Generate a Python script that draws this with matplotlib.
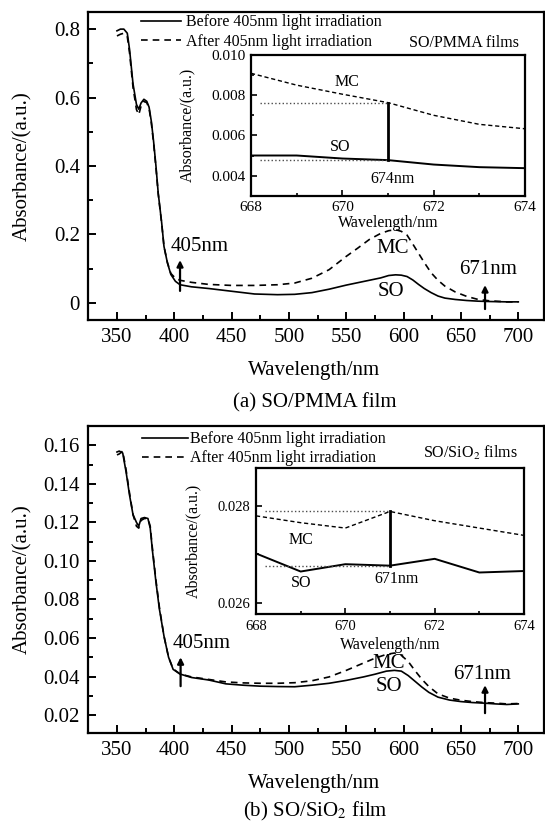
import matplotlib
matplotlib.use('Agg')
import matplotlib.pyplot as plt
from matplotlib.ticker import MultipleLocator, FuncFormatter

plt.rcParams['font.family'] = ['Liberation Serif', 'DejaVu Serif']
plt.rcParams['mathtext.fontset'] = 'stix'

# ---------------- data: (a) SO/PMMA film ----------------
wl_a = [350, 353, 356, 359, 361, 364, 367, 369, 371, 373.5, 376, 378, 380, 382, 384,
        386, 389, 391, 394, 397, 401, 405, 415, 430, 450, 470, 490, 505, 520, 535,
        550, 560, 570, 580, 587, 593, 598, 603, 608, 613, 618, 624, 630, 636, 645,
        655, 665, 675, 690, 700]
before_a = [0.795, 0.800, 0.800, 0.788, 0.74, 0.64, 0.58, 0.566, 0.584, 0.595, 0.589,
            0.572, 0.53, 0.47, 0.40, 0.32, 0.234, 0.165, 0.117, 0.083, 0.063, 0.053,
            0.047, 0.042, 0.034, 0.026, 0.024, 0.025, 0.030, 0.040, 0.052, 0.059,
            0.066, 0.073, 0.080, 0.082, 0.081, 0.077, 0.067, 0.054, 0.042, 0.030,
            0.020, 0.014, 0.010, 0.007, 0.005, 0.004, 0.003, 0.003]
after_a = [0.780, 0.785, 0.788, 0.778, 0.73, 0.63, 0.565, 0.55, 0.575, 0.589, 0.585,
           0.568, 0.525, 0.465, 0.395, 0.318, 0.232, 0.165, 0.118, 0.086, 0.072, 0.066,
           0.060, 0.054, 0.051, 0.051, 0.053, 0.058, 0.072, 0.097, 0.136, 0.160,
           0.185, 0.203, 0.211, 0.214, 0.209, 0.198, 0.172, 0.145, 0.118, 0.088,
           0.066, 0.049, 0.032, 0.019, 0.010, 0.006, 0.003, 0.003]

inset_wl = [668, 669, 670, 671, 672, 673, 674]
inset_mc_a = [0.00909, 0.0085, 0.00805, 0.00763, 0.0070, 0.00655, 0.00633]
inset_so_a = [0.0050, 0.0050, 0.00485, 0.00477, 0.00455, 0.00442, 0.00437]

# ---------------- data: (b) SO/SiO2 film ----------------
wl_b = [350, 352, 355, 358, 361, 364, 367, 369, 371, 374, 377, 379, 381, 384, 387,
        391, 395, 399, 405, 415, 430, 445, 460, 475, 490, 505, 520, 535, 550, 565,
        575, 585, 592, 598, 604, 610, 616, 622, 630, 640, 650, 660, 670, 680, 690, 700]
before_b = [0.1565, 0.157, 0.156, 0.146, 0.134, 0.124, 0.120, 0.118, 0.122, 0.1225,
            0.122, 0.117, 0.105, 0.089, 0.075, 0.061, 0.050, 0.0437, 0.0413, 0.0395,
            0.0382, 0.0362, 0.0355, 0.0350, 0.0348, 0.0347, 0.0355, 0.0365, 0.0380,
            0.0398, 0.0412, 0.0428, 0.0432, 0.0428, 0.0405, 0.0375, 0.0345, 0.0318,
            0.0293, 0.0278, 0.0270, 0.0265, 0.0262, 0.0258, 0.0255, 0.0258]
after_b = [0.155, 0.1555, 0.157, 0.147, 0.135, 0.124, 0.118, 0.117, 0.121, 0.122,
           0.122, 0.118, 0.106, 0.090, 0.076, 0.061, 0.050, 0.044, 0.0413, 0.0398,
           0.0385, 0.0372, 0.0367, 0.0365, 0.0365, 0.0368, 0.0378, 0.0398, 0.0432,
           0.0470, 0.0495, 0.0515, 0.0522, 0.0510, 0.0478, 0.0430, 0.0385, 0.0348,
           0.0310, 0.0288, 0.0277, 0.0270, 0.0265, 0.0262, 0.0258, 0.0260]

inset_mc_b = [0.02779, 0.02765, 0.02754, 0.02788, 0.02769, 0.02754, 0.02739]
inset_so_b = [0.02702, 0.02665, 0.02680, 0.02677, 0.02691, 0.02663, 0.02666]

legend_labels = ['Before 405nm light irradiation', 'After 405nm light irradiation']

W, H = 545, 827
fig = plt.figure(figsize=(W / 100, H / 100), dpi=100)


def rect(l, t, r, b):
    return [l / W, 1 - b / H, (r - l) / W, (b - t) / H]


def style_main(ax):
    for s in ax.spines.values():
        s.set_linewidth(1.6)
    ax.tick_params(which='both', direction='in', top=False, right=False,
                   labelsize=15, width=1.4, pad=6)
    ax.tick_params(which='major', length=6)
    ax.tick_params(which='minor', length=3.5)
    ax.set_xlim(325, 722)
    ax.xaxis.set_major_locator(MultipleLocator(50))
    ax.xaxis.set_minor_locator(MultipleLocator(25))


def style_inset(ax, fs):
    for s in ax.spines.values():
        s.set_linewidth(1.6)
    ax.tick_params(which='both', direction='in', top=False, right=False,
                   labelsize=fs, width=1.2, pad=4)
    ax.tick_params(which='major', length=4)
    ax.tick_params(which='minor', length=2.5)
    ax.set_xlim(668, 674)
    ax.xaxis.set_major_locator(MultipleLocator(2))
    ax.xaxis.set_minor_locator(MultipleLocator(1))


def arrow(ax, x, y0, y1):
    ax.annotate('', xy=(x, y1), xytext=(x, y0),
                arrowprops=dict(arrowstyle='-|>', color='k', lw=1.6,
                                mutation_scale=9, shrinkA=0, shrinkB=0))


# ================= panel (a) =================
ax1 = fig.add_axes(rect(88.3, 12, 543.5, 320))
style_main(ax1)
ax1.plot(wl_a, before_a, color='k', lw=1.2, label=legend_labels[0])
ax1.plot(wl_a, after_a, color='k', lw=1.2, ls=(0, (4, 3)), label=legend_labels[1])
ax1.set_ylim(-0.05, 0.85)
ax1.yaxis.set_major_locator(MultipleLocator(0.2))
ax1.yaxis.set_minor_locator(MultipleLocator(0.1))
ax1.yaxis.set_major_formatter(FuncFormatter(lambda v, p: '0' if abs(v) < 1e-9 else f'{v:.1f}'))
ax1.set_xlabel('Wavelength/nm', fontsize=15)
ax1.set_ylabel('Absorbance/(a.u.)', fontsize=15)
ax1.xaxis.set_label_coords(0.496, -0.133)
ax1.yaxis.set_label_coords(-0.1235, 0.5)
ax1.legend(loc='upper left', bbox_to_anchor=(0.1157, 0.992), frameon=False, fontsize=11.5,
           borderpad=0, borderaxespad=0, handlelength=2.5, handletextpad=0.3,
           labelspacing=0.2)
ax1.text(0.946, 0.899, 'SO/PMMA films', transform=ax1.transAxes, fontsize=11.5,
         ha='right', va='center')
arrow(ax1, 405, 0.035, 0.125)
arrow(ax1, 671, -0.018, 0.052)
ax1.text(422, 0.165, '405nm', fontsize=15, ha='center', va='center')
ax1.text(674, 0.097, '671nm', fontsize=15, ha='center', va='center')
ax1.text(590, 0.16, 'MC', fontsize=15, ha='center', va='center')
ax1.text(589, 0.034, 'SO', fontsize=15, ha='center', va='center')

ins1 = fig.add_axes(rect(251, 55, 525, 195.7))
style_inset(ins1, 11)
ins1.plot(inset_wl, inset_mc_a, color='k', lw=1.0, ls=(0, (3, 2)))
ins1.plot(inset_wl, inset_so_a, color='k', lw=1.4)
ins1.plot([668.2, 671], [inset_mc_a[3], inset_mc_a[3]], color='0.3', lw=1.0, ls=':')
ins1.plot([668.2, 671], [0.0048, 0.0048], color='0.3', lw=1.0, ls=':')
ins1.plot([671, 671], [inset_so_a[3], inset_mc_a[3]], color='k', lw=2.0)
ins1.set_ylim(0.003, 0.010)
ins1.yaxis.set_major_locator(MultipleLocator(0.002))
ins1.yaxis.set_minor_locator(MultipleLocator(0.001))
ins1.yaxis.set_major_formatter(FuncFormatter(lambda v, p: f'{v:.3f}'))
ins1.set_xlabel('Wavelength/nm', fontsize=11.5)
ins1.set_ylabel('Absorbance/(a.u.)', fontsize=11.5)
ins1.xaxis.set_label_coords(0.5, -0.134)
ins1.yaxis.set_label_coords(-0.204, 0.5)
ins1.text(670.1, 0.00865, 'MC', fontsize=11.5, ha='center', va='center')
ins1.text(669.95, 0.0054, 'SO', fontsize=11.5, ha='center', va='center')
ins1.text(671.1, 0.00385, '674nm', fontsize=11.5, ha='center', va='center')

fig.text(315 / W, 1 - 403 / H, '(a) SO/PMMA film', fontsize=15, ha='center', va='center')

# ================= panel (b) =================
ax2 = fig.add_axes(rect(88.3, 426, 543.5, 733))
style_main(ax2)
ax2.plot(wl_b, before_b, color='k', lw=1.2, label=legend_labels[0])
ax2.plot(wl_b, after_b, color='k', lw=1.2, ls=(0, (4, 3)), label=legend_labels[1])
ax2.set_ylim(0.0107, 0.17)
ax2.yaxis.set_major_locator(MultipleLocator(0.02))
ax2.yaxis.set_minor_locator(MultipleLocator(0.01))
ax2.yaxis.set_major_formatter(FuncFormatter(lambda v, p: f'{v:.2f}'))
ax2.set_xlabel('Wavelength/nm', fontsize=15)
ax2.set_ylabel('Absorbance/(a.u.)', fontsize=15)
ax2.xaxis.set_label_coords(0.496, -0.1336)
ax2.yaxis.set_label_coords(-0.1225, 0.5)
ax2.legend(loc='upper left', bbox_to_anchor=(0.118, 0.983), frameon=False, fontsize=11.5,
           borderpad=0, borderaxespad=0, handlelength=2.9, handletextpad=0.1,
           labelspacing=0.2)
ax2.text(0.943, 0.912, 'SO/SiO$_2$ films', transform=ax2.transAxes, fontsize=11.5,
         ha='right', va='center')
arrow(ax2, 405.5, 0.035, 0.050)
arrow(ax2, 671, 0.021, 0.0355)
ax2.text(424, 0.057, '405nm', fontsize=15, ha='center', va='center')
ax2.text(668, 0.041, '671nm', fontsize=15, ha='center', va='center')
ax2.text(587, 0.047, 'MC', fontsize=15, ha='center', va='center')
ax2.text(587, 0.0347, 'SO', fontsize=15, ha='center', va='center')

ins2 = fig.add_axes(rect(256, 468, 524, 614))
style_inset(ins2, 10.5)
ins2.plot(inset_wl, inset_mc_b, color='k', lw=1.0, ls=(0, (3, 2)))
ins2.plot(inset_wl, inset_so_b, color='k', lw=1.4)
ins2.plot([668.2, 671], [inset_mc_b[3], inset_mc_b[3]], color='0.3', lw=1.0, ls=':')
ins2.plot([668.2, 671], [inset_so_b[3], inset_so_b[3]], color='0.3', lw=1.0, ls=':')
ins2.plot([671, 671], [inset_so_b[3], inset_mc_b[3]], color='k', lw=2.0)
ins2.set_ylim(0.02578, 0.02877)
ins2.yaxis.set_major_locator(MultipleLocator(0.002))
ins2.yaxis.set_minor_locator(MultipleLocator(0.001))
ins2.yaxis.set_major_formatter(FuncFormatter(lambda v, p: f'{v:.3f}'))
ins2.set_xlabel('Wavelength/nm', fontsize=11.5)
ins2.set_ylabel('Absorbance/(a.u.)', fontsize=11.5)
ins2.xaxis.set_label_coords(0.5, -0.158)
ins2.yaxis.set_label_coords(-0.203, 0.5)
ins2.text(669.0, 0.0273, 'MC', fontsize=11.5, ha='center', va='center')
ins2.text(669.0, 0.02642, 'SO', fontsize=11.5, ha='center', va='center')
ins2.text(671.15, 0.0265, '671nm', fontsize=11.5, ha='center', va='center')

fig.text(315 / W, 1 - 811 / H, '(b) SO/SiO$_2$ film', fontsize=15, ha='center', va='center')

fig.savefig('out.png', dpi=100)
